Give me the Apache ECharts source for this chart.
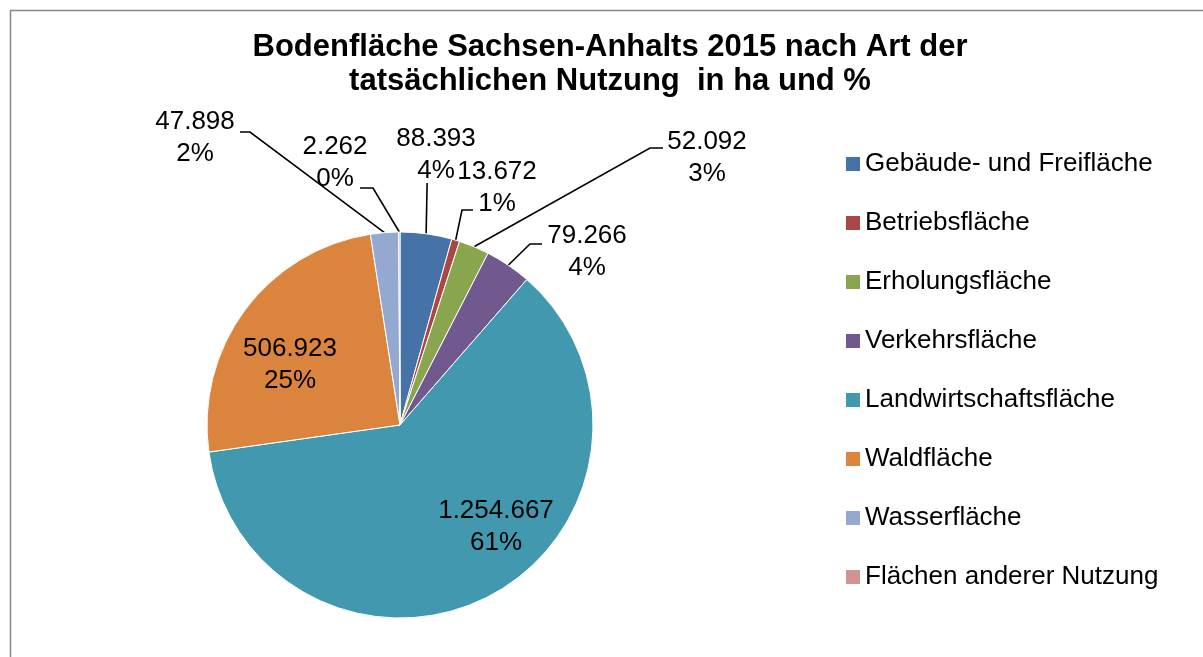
<!DOCTYPE html>
<html><head><meta charset="utf-8">
<script src="https://cdn.jsdelivr.net/npm/echarts@6/dist/echarts.min.js"></script>
<style>html,body{margin:0;padding:0;background:#fff}#c{width:1203px;height:657px}</style>
</head><body><div id="c"></div>
<script>
// ---- data ----
const categories = ['Gebäude- und Freifläche', 'Betriebsfläche', 'Erholungsfläche', 'Verkehrsfläche', 'Landwirtschaftsfläche', 'Waldfläche', 'Wasserfläche', 'Flächen anderer Nutzung'];
const areaHa = [88393, 13672, 52092, 79266, 1254667, 506923, 47898, 2262];
const titleLines = ['Bodenfläche Sachsen-Anhalts 2015 nach Art der', 'tatsächlichen Nutzung  in ha und %'];

// ---- styles ----
const colors = ['#4572A7', '#AA4643', '#89A54E', '#71588F', '#4198AF', '#DB843D', '#93A9CF', '#D19392'];
const FONT = '"Liberation Sans", Arial, Helvetica, sans-serif';
const insideIdx = [4, 5];
// label placement (label centre, leader-line end point, elbow offset)
const place = [
  {x: 436, y: 155, ey: 183, vertical: true},
  {x: 497, y: 188, ex: 473, ey: 210, elbow: -11},
  {x: 707, y: 158, ex: 663, ey: 148, elbow: -13},
  {x: 587, y: 252, ex: 542, ey: 244, elbow: -12},
  {x: 496, y: 527},
  {x: 290, y: 365},
  {x: 195, y: 138, ex: 240, ey: 132, elbow: 10},
  {x: 335, y: 163, ex: 360, ey: 188, elbow: 13}
];

function fmt(v) { return String(v).replace(/\B(?=(\d{3})+(?!\d))/g, '.'); }

const chart = echarts.init(document.getElementById('c'), null, {renderer: 'canvas'});
chart.setOption({
  animation: false,
  backgroundColor: '#fff',
  color: colors,
  graphic: [{
    type: 'rect', left: 8, top: 8, silent: true,
    shape: {x: 0, y: 0, width: 1300, height: 800},
    style: {fill: 'none', stroke: '#868686', lineWidth: 1.5}
  }],
  title: {
    text: titleLines.join('\n'),
    left: 610, top: 30, padding: 0, textAlign: 'center',
    textStyle: {fontFamily: FONT, fontSize: 31, fontWeight: 'bold', lineHeight: 34, color: '#000'}
  },
  legend: {
    orient: 'vertical', left: 846, top: 151, padding: 0,
    icon: 'rect', itemWidth: 14, itemHeight: 14, itemGap: 33,
    itemStyle: {borderWidth: 0},
    textStyle: {fontFamily: FONT, fontSize: 26, lineHeight: 26, color: '#000'},
    data: categories
  },
  series: [{
    type: 'pie',
    center: [400, 425],
    radius: 193,
    startAngle: 90,
    clockwise: true,
    avoidLabelOverlap: false,
    itemStyle: {borderColor: '#fff', borderWidth: 1},
    emphasis: {disabled: true},
    label: {
      show: true, position: 'outside', color: '#000',
      fontFamily: FONT, fontSize: 26, lineHeight: 32, align: 'center',
      formatter: p => fmt(p.value) + '\n' + Math.round(p.percent) + '%'
    },
    labelLine: {show: true, length: 10, length2: 10, lineStyle: {color: '#000', width: 1.6}},
    labelLayout: function (params) {
      const i = params.dataIndex;
      const p = place[i];
      const res = {x: p.x, y: p.y, align: 'center', verticalAlign: 'middle'};
      if (insideIdx.indexOf(i) < 0 && params.labelLinePoints) {
        const a = params.labelLinePoints[0];
        if (p.vertical) {
          res.labelLinePoints = [[a[0], a[1]], [a[0] + 1, p.ey], [a[0] + 1, p.ey]];
        } else {
          res.labelLinePoints = [[a[0], a[1]], [p.ex + p.elbow, p.ey], [p.ex, p.ey]];
        }
      }
      return res;
    },
    data: categories.map((c, i) => {
      const d = {name: c, value: areaHa[i]};
      if (insideIdx.indexOf(i) >= 0) {
        d.label = {position: 'inside'};
        d.labelLine = {show: false};
      }
      return d;
    })
  }]
});
</script>
</body></html>
